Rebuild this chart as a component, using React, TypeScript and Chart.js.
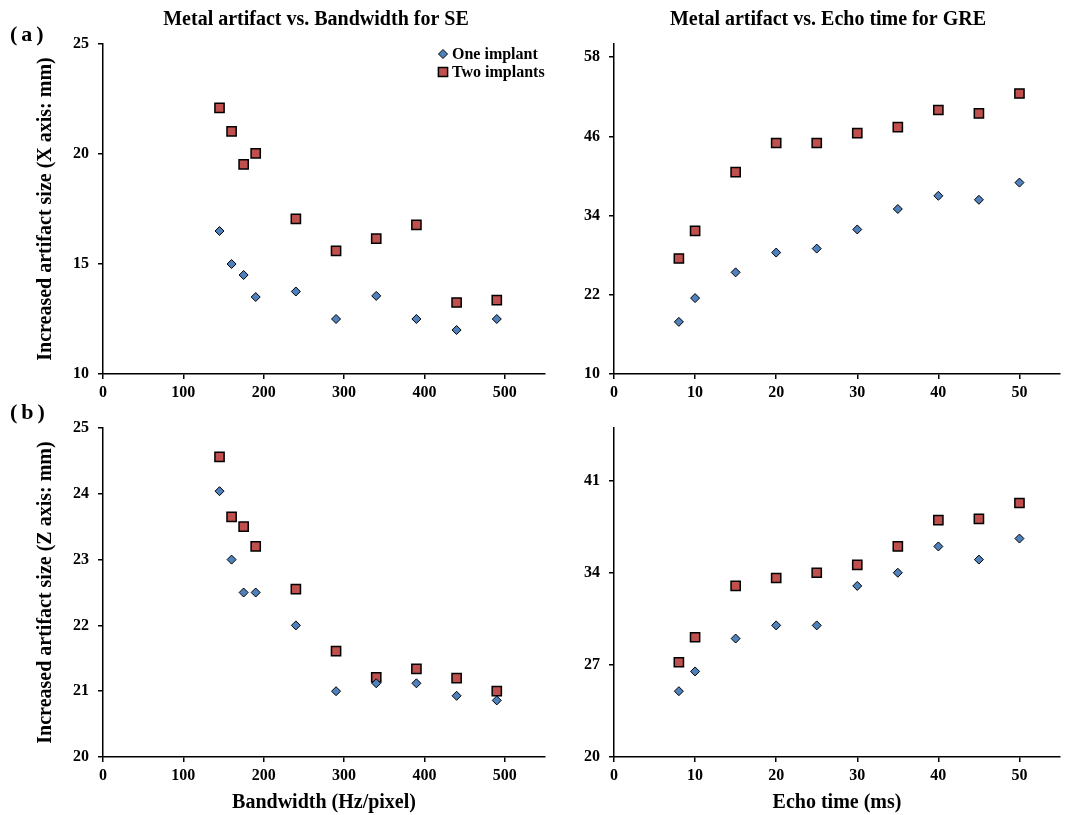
import React, { useEffect, useRef } from "react";
import { Chart, registerables } from "chart.js";

Chart.register(...registerables);

// ---------- data ----------
const bandwidth = [145, 160, 175, 190, 240, 290, 340, 390, 440, 490];
const echoTime = [8, 10, 15, 20, 25, 30, 35, 40, 45, 50];

const seXOne = [16.5, 15.0, 14.5, 13.5, 13.75, 12.5, 13.55, 12.5, 12.0, 12.5];
const seXTwo = [22.1, 21.03, 19.53, 20.03, 17.05, 15.6, 16.15, 16.78, 13.25, 13.36];
const greXOne = [17.9, 21.5, 25.4, 28.4, 29.0, 31.9, 35.0, 37.0, 36.4, 39.0];
const greXTwo = [27.5, 31.7, 40.6, 45.0, 45.0, 46.5, 47.4, 50.0, 49.5, 52.5];
const seZOne = [24.04, 23.0, 22.5, 22.5, 22.0, 21.0, 21.12, 21.12, 20.93, 20.86];
const seZTwo = [24.56, 23.65, 23.5, 23.2, 22.55, 21.61, 21.21, 21.34, 21.2, 21.0];
const greZOne = [25.0, 26.5, 29.0, 30.0, 30.0, 33.0, 34.0, 36.0, 35.0, 36.6];
const greZTwo = [27.2, 29.1, 33.0, 33.6, 34.0, 34.6, 36.0, 38.0, 38.1, 39.3];

const bandwidthTicks = [0, 100, 200, 300, 400, 500];
const echoTicks = [0, 10, 20, 30, 40, 50];
const seXTicks = [10, 15, 20, 25];
const greXTicks = [10, 22, 34, 46, 58];
const seZTicks = [20, 21, 22, 23, 24, 25];
const greZTicks = [20, 27, 34, 41];

const seriesNames = ["One implant", "Two implants"];

const BLUE = "#4F81BD";
const RED = "#C0504D";
const FAMILY = "'Liberation Serif', 'Times New Roman', serif";

// ---------- text / legend plugin ----------
const panelText = {
  id: "panelText",
  afterDraw(chart: any, _args: any, opts: any) {
    const { ctx } = chart;
    ctx.save();
    ctx.fillStyle = "#000";
    if (opts.title) {
      ctx.font = `bold 20px ${FAMILY}`;
      ctx.textAlign = "center";
      ctx.textBaseline = "middle";
      ctx.fillText(opts.title, opts.titleX, opts.titleY);
    }
    if (opts.label) {
      ctx.font = `bold 22px ${FAMILY}`;
      ctx.textAlign = "left";
      ctx.textBaseline = "middle";
      try {
        (ctx as any).letterSpacing = "4px";
      } catch (e) {}
      ctx.fillText(opts.label, opts.labelX, opts.labelY);
      try {
        (ctx as any).letterSpacing = "0px";
      } catch (e) {}
    }
    if (opts.legend) {
      const ds = chart.data.datasets;
      ds.forEach((d: any, i: number) => {
        const mx = opts.legendX;
        const my = opts.legendY + i * 18;
        ctx.beginPath();
        if (d.pointStyle === "rectRot") {
          const r = d.pointRadius;
          ctx.moveTo(mx, my - r);
          ctx.lineTo(mx + r, my);
          ctx.lineTo(mx, my + r);
          ctx.lineTo(mx - r, my);
          ctx.closePath();
        } else {
          const s = d.pointRadius * Math.SQRT1_2;
          ctx.rect(mx - s, my - s, 2 * s, 2 * s);
        }
        ctx.fillStyle = d.backgroundColor;
        ctx.fill();
        ctx.lineWidth = d.borderWidth;
        ctx.strokeStyle = d.borderColor;
        ctx.stroke();
        ctx.fillStyle = "#000";
        ctx.font = `bold 16px ${FAMILY}`;
        ctx.textAlign = "left";
        ctx.textBaseline = "middle";
        ctx.fillText(d.label, mx + 9, my + 1);
      });
    }
    ctx.restore();
  },
};

type PanelProps = {
  left: number;
  top: number;
  width: number;
  height: number;
  padTop: number;
  padRight: number;
  yWidth: number;
  xHeight: number;
  xs: number[];
  one: number[];
  two: number[];
  xMin: number;
  xMax: number;
  xTicks: number[];
  yMin: number;
  yMax: number;
  yTicks: number[];
  title?: string;
  titleX?: number;
  label?: string;
  labelY?: number;
  yTitle?: string;
  xTitle?: string;
  legend?: boolean;
};

function Panel(p: PanelProps) {
  const ref = useRef<HTMLCanvasElement | null>(null);
  useEffect(() => {
    if (!ref.current) return;
    const tickFont = { family: FAMILY, size: 16, weight: "bold" as const };
    const titleFont = { family: FAMILY, size: 20, weight: "bold" as const, lineHeight: 1.2 };
    const chart = new Chart(ref.current, {
      type: "scatter",
      data: {
        datasets: [
          {
            label: seriesNames[0],
            data: p.xs.map((x, i) => ({ x, y: p.one[i] })),
            pointStyle: "rectRot",
            pointRadius: 4.5,
            pointHoverRadius: 4.5,
            backgroundColor: BLUE,
            borderColor: "#000",
            borderWidth: 1,
          },
          {
            label: seriesNames[1],
            data: p.xs.map((x, i) => ({ x, y: p.two[i] })),
            pointStyle: "rect",
            pointRadius: 6.5,
            pointHoverRadius: 6.5,
            backgroundColor: RED,
            borderColor: "#000",
            borderWidth: 1.5,
          },
        ] as any,
      },
      options: {
        animation: false,
        responsive: false,
        events: [],
        clip: false as any,
        layout: { padding: { left: 0, top: p.padTop, right: p.padRight, bottom: 0 } },
        plugins: {
          legend: { display: false },
          tooltip: { enabled: false },
          title: { display: false },
          panelText: {
            title: p.title,
            titleX: p.titleX,
            titleY: 20,
            label: p.label,
            labelX: 10,
            labelY: p.labelY,
            legend: p.legend,
            legendX: 443,
            legendY: 54,
          },
        } as any,
        scales: {
          x: {
            type: "linear",
            min: p.xMin,
            max: p.xMax,
            afterBuildTicks: (s: any) => {
              s.ticks = p.xTicks.map((v) => ({ value: v }));
            },
            afterFit: (s: any) => {
              s.height = p.xHeight;
            },
            grid: {
              display: true,
              drawOnChartArea: false,
              drawTicks: true,
              tickLength: 5,
              color: "#000",
              lineWidth: 1.5,
            },
            border: { display: true, color: "#000", width: 1.5 },
            ticks: { color: "#000", font: tickFont, padding: 4, maxRotation: 0, autoSkip: false },
            title: p.xTitle
              ? { display: true, text: p.xTitle, color: "#000", font: titleFont, padding: { top: 0, bottom: 0 } }
              : { display: false },
          },
          y: {
            type: "linear",
            min: p.yMin,
            max: p.yMax,
            afterBuildTicks: (s: any) => {
              s.ticks = p.yTicks.map((v) => ({ value: v }));
            },
            afterFit: (s: any) => {
              s.width = p.yWidth;
            },
            grid: {
              display: true,
              drawOnChartArea: false,
              drawTicks: true,
              tickLength: 5,
              color: "#000",
              lineWidth: 1.5,
            },
            border: { display: true, color: "#000", width: 1.5 },
            ticks: { color: "#000", font: tickFont, padding: 9, autoSkip: false },
            title: p.yTitle
              ? { display: true, text: p.yTitle, color: "#000", font: titleFont, padding: { top: 34, bottom: 0 } }
              : { display: false },
          },
        } as any,
      },
      plugins: [panelText as any],
    });
    return () => chart.destroy();
  }, []);
  return (
    <canvas
      ref={ref}
      width={p.width}
      height={p.height}
      style={{ position: "absolute", left: p.left, top: p.top, width: p.width, height: p.height }}
    />
  );
}

export default function App() {
  return (
    <div
      style={{
        position: "absolute",
        left: 0,
        top: 0,
        width: 1068,
        height: 815,
        background: "#fff",
        overflow: "hidden",
      }}
    >
      <Panel
        left={0}
        top={0}
        width={560}
        height={405}
        padTop={44}
        padRight={15}
        yWidth={103}
        xHeight={31}
        xs={bandwidth}
        one={seXOne}
        two={seXTwo}
        xMin={0}
        xMax={550}
        xTicks={bandwidthTicks}
        yMin={10}
        yMax={25}
        yTicks={seXTicks}
        title="Metal artifact vs. Bandwidth for SE"
        titleX={316}
        label="(a)"
        labelY={35}
        yTitle="Increased artifact size (X axis: mm)"
        legend
      />
      <Panel
        left={560}
        top={0}
        width={508}
        height={405}
        padTop={44}
        padRight={8}
        yWidth={54}
        xHeight={31}
        xs={echoTime}
        one={greXOne}
        two={greXTwo}
        xMin={0}
        xMax={55}
        xTicks={echoTicks}
        yMin={10}
        yMax={60}
        yTicks={greXTicks}
        title="Metal artifact vs. Echo time for GRE"
        titleX={268}
      />
      <Panel
        left={0}
        top={400}
        width={560}
        height={415}
        padTop={28}
        padRight={15}
        yWidth={103}
        xHeight={58}
        xs={bandwidth}
        one={seZOne}
        two={seZTwo}
        xMin={0}
        xMax={550}
        xTicks={bandwidthTicks}
        yMin={20}
        yMax={25}
        yTicks={seZTicks}
        label="(b)"
        labelY={13}
        yTitle="Increased artifact size (Z axis: mm)"
        xTitle="Bandwidth (Hz/pixel)"
      />
      <Panel
        left={560}
        top={400}
        width={508}
        height={415}
        padTop={28}
        padRight={8}
        yWidth={54}
        xHeight={58}
        xs={echoTime}
        one={greZOne}
        two={greZTwo}
        xMin={0}
        xMax={55}
        xTicks={echoTicks}
        yMin={20}
        yMax={45}
        yTicks={greZTicks}
        xTitle="Echo time (ms)"
      />
    </div>
  );
}
